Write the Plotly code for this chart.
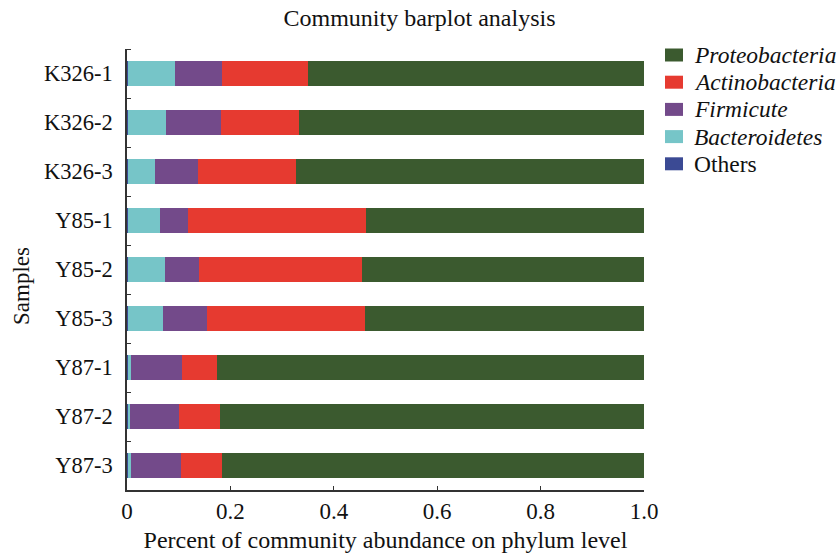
import plotly.graph_objects as go

# Samples, top to bottom
samples = ["K326-1", "K326-2", "K326-3", "Y85-1", "Y85-2", "Y85-3", "Y87-1", "Y87-2", "Y87-3"]

# Relative abundance of each phylum per sample
others = [0.002, 0.002, 0.002, 0.002, 0.002, 0.002, 0.002, 0.002, 0.002]
bacteroidetes = [0.091, 0.074, 0.052, 0.061, 0.072, 0.068, 0.006, 0.004, 0.006]
firmicute = [0.091, 0.105, 0.084, 0.055, 0.065, 0.084, 0.099, 0.095, 0.097]
actinobacteria = [0.166, 0.152, 0.188, 0.345, 0.316, 0.307, 0.067, 0.078, 0.078]
proteobacteria = [0.650, 0.667, 0.674, 0.537, 0.545, 0.539, 0.826, 0.821, 0.817]

x_ticks = [0, 0.2, 0.4, 0.6, 0.8, 1.0]
x_ticktext = ["0", "0.2", "0.4", "0.6", "0.8", "1.0"]

FONT = "Liberation Serif"
W, H = 839, 553
L, R, T, B = 127, 195, 49, 63
plot_w = W - L - R
plot_h = H - T - B
positions = list(range(len(samples)))

# stacking order: left to right
series = [
    ("Others", others, "#3B4A94"),
    ("<i>Bacteroidetes</i>", bacteroidetes, "#76C5C8"),
    ("<i>Firmicute</i>", firmicute, "#734A8A"),
    ("<i>Actinobacteria</i>", actinobacteria, "#E63A30"),
    ("<i>Proteobacteria</i>", proteobacteria, "#3B5A2F"),
]

fig = go.Figure()
for name, vals, color in series:
    fig.add_trace(go.Bar(
        y=positions, x=vals, name=name, orientation="h", showlegend=False,
        width=0.5, marker=dict(color=color, line=dict(width=0)),
    ))


def px_x(px):
    return (px - L) / plot_w


def px_y(py):
    return (H - B - py) / plot_h


# key on the right, listed in reverse stacking order
for i, (name, _, color) in enumerate(reversed(series)):
    cy = 55 + 27.2 * i
    fig.add_shape(type="rect", xref="paper", yref="paper",
                  x0=px_x(665), x1=px_x(683), y0=px_y(cy + 6.5), y1=px_y(cy - 6.5),
                  fillcolor=color, line=dict(width=0))
    fig.add_annotation(text=name, xref="paper", yref="paper",
                       x=px_x(692), y=px_y(cy), xanchor="left", yanchor="middle",
                       showarrow=False, font=dict(size=23.5, family=FONT, color="#111"))

# vertical axis caption
fig.add_annotation(text="Samples", xref="paper", yref="paper",
                   x=px_x(21), y=px_y(286), textangle=-90,
                   xanchor="center", yanchor="middle", showarrow=False,
                   font=dict(size=23, family=FONT, color="#111"))

fig.update_layout(
    width=W, height=H,
    barmode="stack",
    plot_bgcolor="white", paper_bgcolor="white",
    margin=dict(l=L, r=R, t=T, b=B, autoexpand=False),
    font=dict(family=FONT, size=22, color="#111"),
    showlegend=False,
    title=dict(text="Community barplot analysis", x=0.5, xref="container",
               xanchor="center", y=1 - 18 / H, yref="container", yanchor="middle",
               font=dict(size=24)),
    xaxis=dict(range=[0, 1], tickvals=x_ticks, ticktext=x_ticktext,
               ticks="inside", ticklen=4, tickcolor="#333", tickwidth=1.2,
               showline=True, linecolor="#333", linewidth=1.5, showgrid=False,
               zeroline=False, ticklabelstandoff=0, tickfont=dict(size=23),
               automargin=False,
               title=dict(text="Percent of community abundance on phylum level",
                          standoff=10, font=dict(size=24, family=FONT))),
    yaxis=dict(range=[8.5, -0.5], tickvals=positions, ticktext=samples,
               ticks="", showline=True, linecolor="#333", linewidth=1.5,
               showgrid=False, zeroline=False, ticklabelstandoff=8,
               tickfont=dict(size=22.5), automargin=False,
               minor=dict(ticks="inside", tick0=0.5, dtick=1, ticklen=4,
                          tickcolor="#333", tickwidth=1.2, showgrid=False)),
)

fig.write_html("out.html")
